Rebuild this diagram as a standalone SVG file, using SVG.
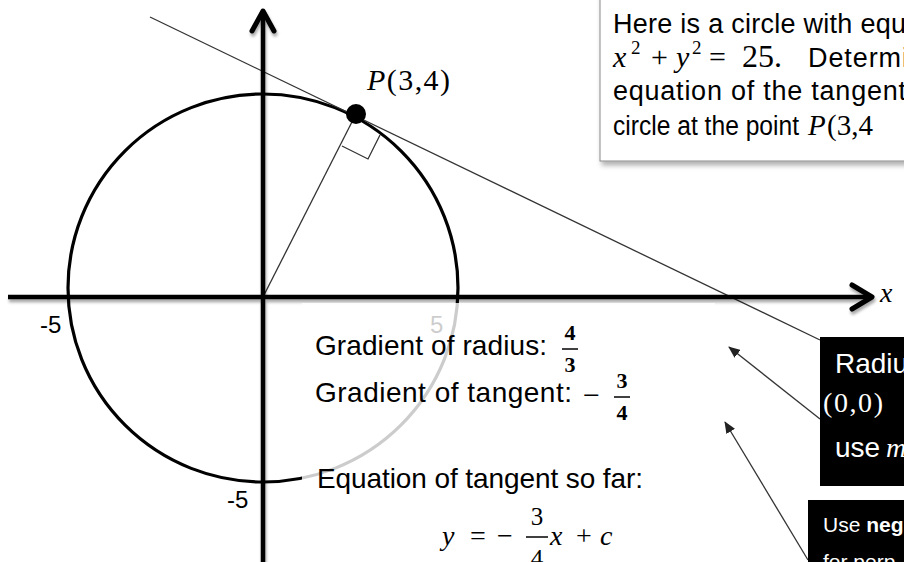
<svg xmlns="http://www.w3.org/2000/svg" width="904" height="562" viewBox="0 0 904 562">
<defs>
<style>
.sans{font-family:"Liberation Sans",Arial,sans-serif;}
.math{font-family:"Liberation Serif","Times New Roman",serif;}
.it{font-style:italic;}
.axis{stroke:#000;stroke-width:4.5;fill:none;stroke-linecap:butt;}
.head{stroke:#000;stroke-width:5;fill:none;stroke-linecap:round;stroke-linejoin:round;}
.thin{stroke:#333;stroke-width:1.3;fill:none;}
.wt{fill:#fff;}
</style>
<filter id="sh" x="-10%" y="-10%" width="130%" height="130%">
<feDropShadow dx="1" dy="3" stdDeviation="1.6" flood-color="#000" flood-opacity="0.35"/>
</filter>
<filter id="bsh" x="-5%" y="-5%" width="115%" height="120%">
<feDropShadow dx="2" dy="4" stdDeviation="2.5" flood-color="#000" flood-opacity="0.3"/>
</filter>
<marker id="ah" viewBox="0 0 12 10" refX="11" refY="5" markerWidth="12" markerHeight="10" markerUnits="userSpaceOnUse" orient="auto">
<path d="M0,0 L12,5 L0,10 Z" fill="#222"/>
</marker>
</defs>
<rect width="904" height="562" fill="#fff"/>

<g id="question-box">
<rect x="600" y="-10" width="330" height="171" fill="#fff" stroke="#8a8a8a" stroke-width="1" filter="url(#bsh)"/>
<text class="sans" x="613" y="33" font-size="27" textLength="293">Here is a circle with equ</text>
<text class="math" font-size="30" y="67"><tspan class="it" x="613">x</tspan><tspan x="631" y="54" font-size="19">2</tspan><tspan x="651" y="67">+</tspan><tspan class="it" x="676">y</tspan><tspan x="692" y="54" font-size="19">2</tspan><tspan x="709" y="67">=</tspan></text>
<text class="math" x="742" y="67" font-size="32">25.</text>
<text class="sans" x="808" y="67" font-size="27" textLength="100">Determi</text>
<text class="sans" x="613" y="100" font-size="27" textLength="293">equation of the tangent</text>
<text class="sans" x="613" y="135" font-size="27" textLength="186" lengthAdjust="spacingAndGlyphs">circle at the point</text>
<text class="math" y="135" font-size="29"><tspan class="it" x="808">P</tspan><tspan x="827">(3,4</tspan></text>
</g>

<g id="circle">
<ellipse cx="263" cy="288" rx="195" ry="194" fill="none" stroke="#000" stroke-width="3.2"/>
</g>

<g id="connectors">
<line id="tangent" class="thin" x1="150" y1="17" x2="820" y2="340"/>
<line id="radius" class="thin" x1="263" y1="297" x2="356" y2="114"/>
<polyline id="right-angle" class="thin" points="342,146 368,159 380,135"/>
<line id="arrow-radius" class="thin" x1="820" y1="419" x2="729" y2="347" marker-end="url(#ah)"/>
<line id="arrow-neg" class="thin" x1="808" y1="560" x2="725" y2="422" marker-end="url(#ah)"/>
</g>

<g id="axes" filter="url(#sh)">
<line class="axis" x1="8" y1="297" x2="871" y2="297"/>
<polyline class="head" points="852,285 872,297 852,309"/>
<line class="axis" x1="263" y1="562" x2="263" y2="12"/>
<polyline class="head" points="252,31 263,11 274,31"/>
</g>

<g id="point-P">
<circle cx="356" cy="114" r="10" fill="#000"/>
<text class="math" x="367" y="90" font-size="30" textLength="83"><tspan class="it">P</tspan>(3,4)</text>
</g>

<g id="axis-labels">
<text class="sans" x="40" y="333" font-size="24">-5</text>
<text class="sans" x="430" y="333" font-size="24">5</text>
<text class="sans" x="227" y="508" font-size="24">-5</text>
<text class="math it" x="880" y="302" font-size="28">x</text>
</g>

<g id="working">
<rect x="302" y="303" width="413" height="259" fill="#fff" fill-opacity="0.8"/>
<text class="sans" x="315" y="355" font-size="28" textLength="232">Gradient of radius:</text>
<text class="math" font-size="22" font-weight="bold" text-anchor="middle"><tspan x="570" y="340">4</tspan><tspan x="570" y="372">3</tspan></text>
<line x1="562" y1="349" x2="578" y2="349" stroke="#000" stroke-width="1.5"/>
<text class="sans" x="315" y="402" font-size="28" textLength="257">Gradient of tangent:</text>
<text class="math" x="583" y="405" font-size="30">−</text>
<text class="math" font-size="22" font-weight="bold" text-anchor="middle"><tspan x="622" y="388">3</tspan><tspan x="622" y="420">4</tspan></text>
<line x1="614" y1="397" x2="630" y2="397" stroke="#000" stroke-width="1.5"/>
<text class="sans" x="317" y="488" font-size="28" textLength="326">Equation of tangent so far:</text>
<text class="math" font-size="28" y="545"><tspan class="it" x="442">y</tspan><tspan x="470">=</tspan><tspan x="497">−</tspan><tspan class="it" x="550">x</tspan><tspan x="576">+</tspan><tspan class="it" x="600">c</tspan></text>
<text class="math" font-size="25" text-anchor="middle"><tspan x="537" y="525">3</tspan><tspan x="537" y="567">4</tspan></text>
<line x1="526" y1="537" x2="548" y2="537" stroke="#000" stroke-width="1.5"/>
</g>

<g id="radius-note">
<rect x="820" y="337" width="100" height="149" fill="#000"/>
<text class="sans wt" x="835" y="373" font-size="28">Radiu</text>
<text class="math wt" x="823" y="412" font-size="28" textLength="60">(0,0)</text>
<text class="wt" y="457" font-size="28"><tspan class="sans" x="835">use</tspan><tspan class="math it" x="886">m</tspan></text>
</g>

<g id="negative-note">
<rect x="808" y="500" width="110" height="70" fill="#000"/>
<text class="sans wt" x="823" y="532" font-size="21">Use <tspan font-weight="bold">neg</tspan></text>
<text class="sans wt" x="823" y="569" font-size="21">for perp</text>
</g>
</svg>
